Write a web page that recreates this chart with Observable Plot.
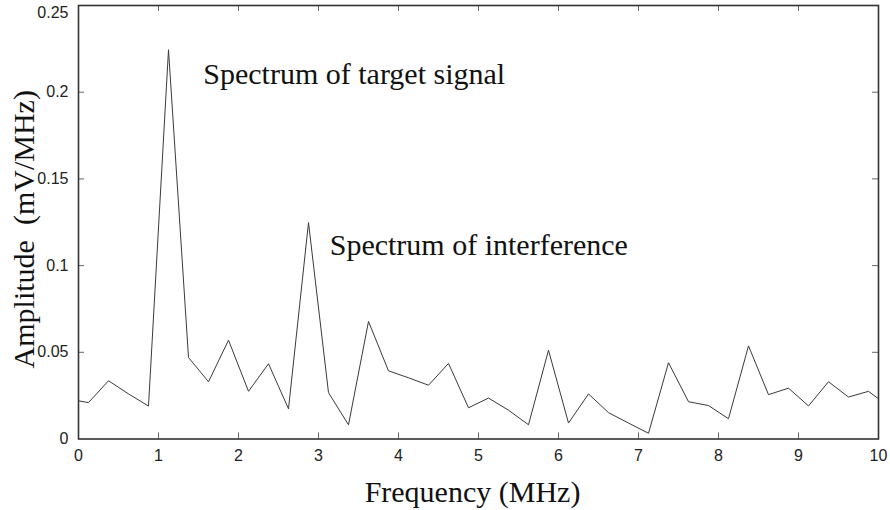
<!DOCTYPE html>
<html>
<head>
<meta charset="utf-8">
<script src="https://cdn.jsdelivr.net/npm/d3@7"></script>
<script src="https://cdn.jsdelivr.net/npm/@observablehq/plot@0.6"></script>
<style>
  html, body { margin: 0; padding: 0; background: #fff; }
</style>
</head>
<body>
<div id="chart"></div>
<script>
// ---- Data ----
const frequency = [
  0, 0.125, 0.375, 0.625, 0.875, 1.125, 1.375, 1.625, 1.875, 2.125, 2.375,
  2.625, 2.875, 3.125, 3.375, 3.625, 3.875, 4.125, 4.375, 4.625, 4.875,
  5.125, 5.375, 5.625, 5.875, 6.125, 6.375, 6.625, 6.875, 7.125, 7.375,
  7.625, 7.875, 8.125, 8.375, 8.625, 8.875, 9.125, 9.375, 9.625, 9.875, 10
];
const amplitude = [
  0.022, 0.021, 0.0336, 0.026, 0.019, 0.2245, 0.047, 0.033, 0.057, 0.0275, 0.0434,
  0.0174, 0.1248, 0.0267, 0.0082, 0.0678, 0.0393, 0.0353, 0.031, 0.0436, 0.018,
  0.0236, 0.0166, 0.0082, 0.0512, 0.0092, 0.026, 0.0152, 0.0092, 0.0033, 0.044,
  0.0215, 0.0193, 0.0117, 0.0537, 0.0256, 0.0293, 0.0191, 0.033, 0.0242, 0.0275, 0.0232
];
const xTicks = [0, 1, 2, 3, 4, 5, 6, 7, 8, 9, 10];
const yTicks = [0, 0.05, 0.1, 0.15, 0.2, 0.25];
const xLabel = "Frequency (MHz)";
const yLabel = "Amplitude\u00a0\u00a0(mV/MHz)";
const annotationText = ["Spectrum of target signal", "Spectrum of interference"];
const annotationFreq = [1.56, 3.14];
const annotationAmp = [0.205, 0.106];

// ---- Layout ----
const W = 890, H = 510;
const mL = 78, mR = 12, mT = 5, mB = 71.5;
const plotW = W - mL - mR, plotH = H - mT - mB;
const tickLen = 6;

const series = frequency.map((f, i) => ({f, a: amplitude[i]}));
const annotations = annotationText.map((t, i) => ({t, f: annotationFreq[i], a: annotationAmp[i]}));
const innerX = xTicks.slice(1, -1);
const innerY = yTicks.slice(1, -1);
const yLabelTicks = yTicks.slice(0, -1);
const yTopTick = yTicks.slice(-1);
const serif = "'Liberation Serif', 'Times New Roman', serif";
const sans = "'Liberation Sans', Arial, sans-serif";

const chart = Plot.plot({
  width: W, height: H,
  marginLeft: mL, marginRight: mR, marginTop: mT, marginBottom: mB,
  style: {background: "#fff", fontFamily: sans, fontSize: "16px", color: "#222"},
  x: {domain: [0, 10]},
  y: {domain: [0, 0.25]},
  marks: [
    Plot.axisX({ticks: xTicks, tickSize: 0, tickPadding: 11, label: null, tickFormat: d => String(d), fontSize: 16, fill: "#222"}),
    Plot.axisY({ticks: yLabelTicks, tickSize: 0, tickPadding: 10, label: null, tickFormat: d => String(d), fontSize: 16, fill: "#222"}),
    Plot.axisY({ticks: yTopTick, tickSize: 0, tickPadding: 10, label: null, tickFormat: d => String(d), fontSize: 16, fill: "#222", dy: 7}),
    Plot.tickX(innerX, {x: d => d, insetTop: plotH - tickLen, stroke: "#666", strokeWidth: 1}),
    Plot.tickX(innerX, {x: d => d, insetBottom: plotH - tickLen, stroke: "#666", strokeWidth: 1}),
    Plot.tickY(innerY, {y: d => d, insetRight: plotW - tickLen, stroke: "#666", strokeWidth: 1}),
    Plot.tickY(innerY, {y: d => d, insetLeft: plotW - tickLen, stroke: "#666", strokeWidth: 1}),
    Plot.line(series, {x: "f", y: "a", stroke: "#3a3a3a", strokeWidth: 1}),
    Plot.frame({stroke: "#333", strokeWidth: 1.6}),
    Plot.text(annotations, {x: "f", y: "a", text: "t", textAnchor: "start", lineAnchor: "bottom",
      fontFamily: serif, fontSize: 30, fill: "#111"}),
    Plot.text([xLabel], {text: d => d, frameAnchor: "bottom", textAnchor: "middle", dx: -6, dy: 62.5, lineAnchor: "bottom",
      fontFamily: serif, fontSize: 30, fill: "#111"}),
    Plot.text([yLabel], {text: d => d, frameAnchor: "left", textAnchor: "middle", rotate: -90, dx: -45, dy: 7, lineAnchor: "bottom",
      fontFamily: serif, fontSize: 30, fill: "#111"})
  ]
});
document.getElementById("chart").appendChild(chart);
</script>
</body>
</html>
